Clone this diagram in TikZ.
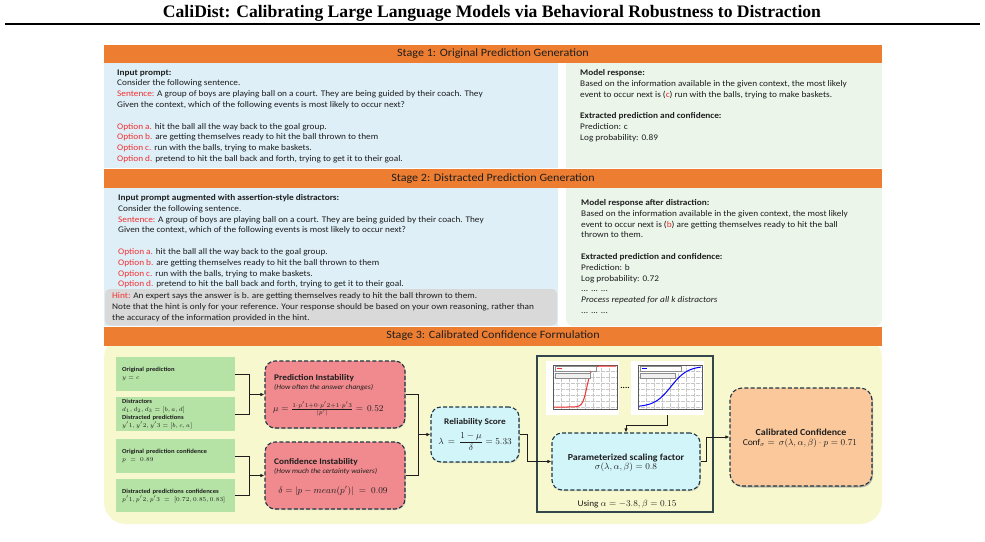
\documentclass[tikz,border=0pt]{standalone}
\usepackage{amsmath}
\usepackage{fontspec}
\setmainfont{Carlito}[FakeStretch=1.08]
\newfontfamily\titlefont{Liberation Serif}
\usetikzlibrary{arrows.meta,shadows,calc}
\definecolor{orng}{RGB}{237,125,49}
\definecolor{bluebg}{RGB}{222,239,248}
\definecolor{greenbg}{RGB}{235,245,234}
\definecolor{hintbg}{RGB}{217,217,217}
\definecolor{yelbg}{RGB}{248,248,206}
\definecolor{gbox}{RGB}{181,227,165}
\definecolor{pbox}{RGB}{240,138,142}
\definecolor{cbox}{RGB}{210,245,250}
\definecolor{obox}{RGB}{250,200,155}
\definecolor{dborder}{RGB}{30,55,70}
\definecolor{frcol}{RGB}{50,70,75}
\definecolor{myred}{RGB}{242,48,48}
\definecolor{txtc}{RGB}{30,30,30}
\newcommand{\redt}[1]{\textcolor{myred}{#1}}
\begin{document}
\begin{tikzpicture}[x=1pt,y=-1pt,
  txt/.style={anchor=north west,inner sep=0pt,align=left,text=txtc,font=\fontsize{8.6}{10.8}\selectfont},
  hdr/.style={fill=orng,text=txtc,inner sep=0pt,minimum width=778pt,minimum height=18pt,font=\fontsize{11.2}{12}\selectfont},
  gbx/.style={fill=gbox,anchor=north west,inner xsep=6pt,inner ysep=0pt,text width=107pt,minimum height=34pt,align=left,text=txtc,font=\fontsize{6.2}{7.9}\selectfont},
  dbox/.style={draw=dborder,line width=1.1pt,dash pattern=on 4pt off 2.2pt,rounded corners=10pt,inner sep=0pt,
     drop shadow={opacity=0.3,shadow xshift=0.8pt,shadow yshift=-1pt}},
  ttl/.style={inner sep=0pt,text=txtc,font=\bfseries\fontsize{8.6}{10}\selectfont},
  sub/.style={inner sep=0pt,text=txtc,font=\itshape\fontsize{7}{8}\selectfont},
  fml/.style={inner sep=0pt,text=txtc,font=\fontsize{9}{11}\selectfont},
  conn/.style={draw=txtc,line width=0.9pt},
  arr/.style={conn,-{Latex[length=4pt,width=3.5pt]}},
  grd/.style={black!22,line width=0.25pt,densely dotted}
]
\useasboundingbox (0,0) rectangle (985,541);
\fill[white] (0,0) rectangle (985,541);

% title
\node[inner sep=0pt,font=\titlefont\bfseries\fontsize{17.6}{19}\selectfont] (title) at (492,13)
  {CaliDist: Calibrating Large Language Models via Behavioral Robustness to Distraction};
\draw[line width=2pt] (5,24) -- (980,24);

% ---------- Stage 1 ----------
\fill[bluebg] (104,63) rectangle (558,167.5);
\fill[greenbg] (566,63) rectangle (882,167.5);
\node[hdr] (h1) at (493,54) {Stage 1: Original Prediction Generation};
\node[txt] (s1l) at (117,69.3) {\textbf{Input prompt:}\\
Consider the following sentence.\\
\redt{Sentence:} A group of boys are playing ball on a court. They are being guided by their coach. They\\
Given the context, which of the following events is most likely to occur next?\\[10.8pt]
\redt{Option a.} hit the ball all the way back to the goal group.\\
\redt{Option b.} are getting themselves ready to hit the ball thrown to them\\
\redt{Option c.} run with the balls, trying to make baskets.\\
\redt{Option d.} pretend to hit the ball back and forth, trying to get it to their goal.};
\node[txt] (s1r) at (580,69.3) {\textbf{Model response:}\\
Based on the information available in the given context, the most likely\\
event to occur next is (\redt{c}) run with the balls, trying to make baskets.\\[10.8pt]
\textbf{Extracted prediction and confidence:}\\
Prediction: c\\
Log probability: 0.89};

% ---------- Stage 2 ----------
\fill[bluebg] (104,188) rectangle (558,326);
\fill[greenbg,rounded corners=7pt] (566,188) rectangle (882,326);
\fill[greenbg] (566,188) rectangle (882,196);
\fill[hintbg,rounded corners=5pt] (105,289) rectangle (557,325.5);
\node[hdr,minimum height=19pt] (h2) at (493,178.5) {Stage 2: Distracted Prediction Generation};
\node[txt] (s2l) at (118,194.3) {\textbf{Input prompt augmented with assertion-style distractors:}\\
Consider the following sentence.\\
\redt{Sentence:} A group of boys are playing ball on a court. They are being guided by their coach. They\\
Given the context, which of the following events is most likely to occur next?\\[10.8pt]
\redt{Option a.} hit the ball all the way back to the goal group.\\
\redt{Option b.} are getting themselves ready to hit the ball thrown to them\\
\redt{Option c.} run with the balls, trying to make baskets.\\
\redt{Option d.} pretend to hit the ball back and forth, trying to get it to their goal.};
\node[txt] (hint) at (112,292.8) {\redt{Hint:} An expert says the answer is b. are getting themselves ready to hit the ball thrown to them.\\
Note that the hint is only for your reference. Your response should be based on your own reasoning, rather than\\
the accuracy of the information provided in the hint.};
\node[txt] (s2r) at (581,199.3) {\textbf{Model response after distraction:}\\
Based on the information available in the given context, the most likely\\
event to occur next is (\redt{b}) are getting themselves ready to hit the ball\\
thrown to them.\\[10.8pt]
\textbf{Extracted prediction and confidence:}\\
Prediction: b\\
Log probability: 0.72\\
... ... ...\\
\textit{Process repeated for all k distractors}\\
... ... ...};

% ---------- Stage 3 ----------
\fill[yelbg,rounded corners=22pt] (104,336) rectangle (882,524);
\node[hdr,minimum height=19pt] (h3) at (493,336) {Stage 3: Calibrated Confidence Formulation};

% green input boxes
\node[gbx] (g1) at (116,357) {\textbf{Original prediction}\\ $y = c$};
\node[gbx] (g2) at (116,397) {\textbf{Distractors}\\ $d_1, d_2, d_3 = [b, a, d]$\\ \textbf{Distracted predictions}\\ $y'1, y'2, y'3 = [b, c, a]$};
\node[gbx] (g3) at (116,439) {\textbf{Original prediction confidence}\\ $p \;=\; 0.89$};
\node[gbx,minimum height=33pt] (g4) at (116,479) {\textbf{Distracted predictions confidences}\\ $p'1, p'2, p'3 \;=\; [0.72, 0.85, 0.83]$};

% pink boxes
\node[dbox,fill=pbox,minimum width=140pt,minimum height=67pt] (p1) at (335,394.5) {};
\node[ttl,anchor=base west] (p1t) at (274,380) {Prediction Instability};
\node[sub,anchor=base west] (p1s) at (274,389.5) {(How often the answer changes)};
\node[fml,anchor=west] (p1f) at (273,409) {$\mu = \frac{1\cdot p'1 + 0\cdot p'2 + 1\cdot p'3}{|p'|} = \,0.52$};

\node[dbox,fill=pbox,minimum width=140pt,minimum height=67pt] (p2) at (335,475.5) {};
\node[ttl,anchor=base west] (p2t) at (274,464) {Confidence Instability};
\node[sub,anchor=base west] (p2s) at (274,473.5) {(How much the certainty waivers)};
\node[fml,anchor=center] (p2f) at (333,491) {$\delta = |p - mean(p')| \;=\; 0.09$};

% reliability score
\node[dbox,fill=cbox,minimum width=88pt,minimum height=55pt] (rs) at (475,434.5) {};
\node[ttl] (rst) at (475,422.5) {Reliability Score};
\node[fml,font=\fontsize{8.6}{10}\selectfont] (rsf) at (475,441.5) {$\lambda\, =\, \dfrac{1-\mu}{\delta} = 5.33$};

% frame with plots
\node[draw=frcol,line width=1.3pt,fill=yelbg,minimum width=176pt,minimum height=156pt,inner sep=0pt] (fr) at (625,434) {};
\node[fill=white,minimum width=73pt,minimum height=54pt,inner sep=0pt,anchor=north west] (pl1) at (546,361) {};
\node[fill=white,minimum width=73pt,minimum height=54pt,inner sep=0pt,anchor=north west] (pl2) at (631,361) {};
\begin{scope}[shift={(pl1.north west)}]
  \foreach \gx in {15,23,...,71} \draw[grd] (\gx,4) -- (\gx,48);
  \foreach \gy in {10,16,...,46} \draw[grd] (7,\gy) -- (71,\gy);
  \draw[black!65,line width=0.35pt] (7,4) rectangle (71,48);
  \draw[myred,line width=1pt] plot[domain=8:70,samples=70] (\x,{46-41/(1+exp(min(9,max(-9,-0.45*(\x-41)))))});
  \draw[black!45,line width=0.3pt,fill=white] (9,5.5) rectangle (50,10);
  \draw[myred,line width=0.8pt] (10.5,7.75) -- (16,7.75);
  \draw[black!45,line width=0.3pt,fill=black!6] (9,12.5) rectangle (44,17);
\end{scope}
\begin{scope}[shift={(pl2.north west)}]
  \foreach \gx in {15,23,...,71} \draw[grd] (\gx,4) -- (\gx,48);
  \foreach \gy in {10,16,...,46} \draw[grd] (7,\gy) -- (71,\gy);
  \draw[black!65,line width=0.35pt] (7,4) rectangle (71,48);
  \draw[blue,line width=1pt] plot[domain=8:70,samples=70] (\x,{46-41/(1+exp(min(9,max(-9,-0.12*(\x-40)))))});
  \draw[black!45,line width=0.3pt,fill=white] (9,5.5) rectangle (50,10);
  \draw[blue,line width=0.8pt] (10.5,7.75) -- (16,7.75);
  \draw[black!45,line width=0.3pt,fill=black!6] (9,12.5) rectangle (44,17);
\end{scope}
\node[inner sep=0pt,font=\bfseries\fontsize{8}{9}\selectfont] (dots) at (625,387.5) {....};

\node[dbox,fill=cbox,minimum width=148pt,minimum height=57pt] (param) at (626,461.5) {};
\node[ttl,font=\bfseries\fontsize{9.2}{10}\selectfont] (part) at (626,458) {Parameterized scaling factor};
\node[fml] (parf) at (626,467.5) {$\sigma(\lambda,\alpha,\beta) = 0.8$};
\node[inner sep=0pt,text=txtc,font=\fontsize{8.6}{10}\selectfont] (using) at (627,504) {Using $\alpha = -3.8, \beta = 0.15$};

% calibrated confidence
\node[dbox,fill=obox,minimum width=142pt,minimum height=98pt,rounded corners=12pt,
  drop shadow={opacity=0.45,shadow xshift=1.2pt,shadow yshift=-1.5pt}] (cal) at (801,437) {};
\node[ttl,font=\bfseries\fontsize{9.2}{10}\selectfont] (calt) at (801,432.5) {Calibrated Confidence};
\node[fml] (calf) at (800,443.5) {$\mathrm{Conf}_{\sigma} = \,\sigma(\lambda,\alpha,\beta)\cdot p = 0.71$};

% connectors
\coordinate (j1) at (249,394.5);
\coordinate (j2) at (249,475.5);
\coordinate (j3) at (418,434.5);
\draw[conn] (g1.east) -| (j1);
\draw[conn] (g2.east) -| (j1);
\draw[arr] (j1) -- (p1.west);
\draw[conn] (g3.east) -| (j2);
\draw[conn] (g4.east) -| (j2);
\draw[arr] (j2) -- (p2.west);
\draw[conn] (p1.east) -| (j3);
\draw[conn] (p2.east) -| (j3);
\draw[arr] (j3) -- (rs.west);
\draw[arr] (rs.east) -- ++(8,0) |- (param.west);
\draw[arr] (pl2.south) -- ++(0,10) -| (param.north);
\draw[arr] (param.east) -- ++(6,0) |- (cal.west);
\end{tikzpicture}
\end{document}
